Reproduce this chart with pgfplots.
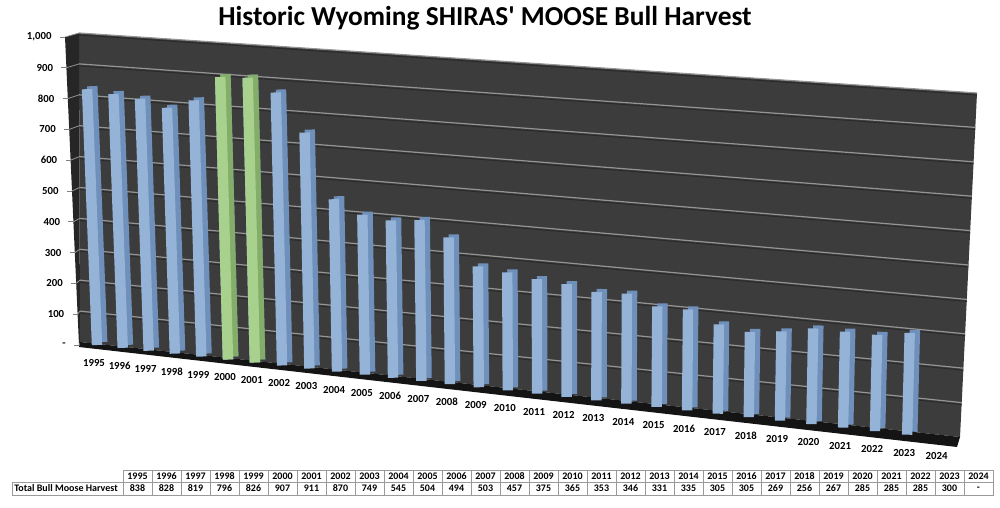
\documentclass[border=0pt]{standalone}
\usepackage{fontspec}
\setmainfont{Carlito}
\usepackage{pgfplots}
\usepackage{pgfplotstable}
\pgfplotsset{compat=1.18}

\definecolor{wallgray}{HTML}{3C3C3C}
\definecolor{sidewall}{HTML}{262626}
\definecolor{floorgray}{HTML}{141414}
\definecolor{gridgray}{HTML}{949494}
\definecolor{gridshadow}{HTML}{2A2A2A}
\definecolor{barblue}{HTML}{95B3D7}
\definecolor{barblueside}{HTML}{6F90BB}
\definecolor{bargreen}{HTML}{A9D18E}
\definecolor{bargreenside}{HTML}{84AD6A}
\definecolor{tablegray}{HTML}{9A9A9A}

% harvest per year, 2024 not reported yet
\pgfplotstableread{
idx year harvest
0  1995 838
1  1996 828
2  1997 819
3  1998 796
4  1999 826
5  2000 907
6  2001 911
7  2002 870
8  2003 749
9  2004 545
10 2005 504
11 2006 494
12 2007 503
13 2008 457
14 2009 375
15 2010 365
16 2011 353
17 2012 346
18 2013 331
19 2014 335
20 2015 305
21 2016 305
22 2017 269
23 2018 256
24 2019 267
25 2020 285
26 2021 285
27 2022 285
28 2023 300
29 2024 0
}\moosedata

\newcommand{\smallbf}{\bfseries\fontsize{5.4}{6}\selectfont}
\newcommand{\tablebf}{\bfseries\fontsize{5.0}{6}\selectfont}

% bars as strokes from the floor; the factors give the perspective of the
% original 3-D chart (bars further right are nearer: taller, leaning right)
\pgfplotsset{
  bar3d/.style={
    quiver={
      u={(-0.039+0.00229*\thisrow{idx})*0.01188*\thisrow{harvest}*(1+0.00424*\thisrow{idx})},
      v={\thisrow{harvest}*(1+0.00424*\thisrow{idx})},
      every arrow/.append style={-}},
    mark=none, line width=5.2pt, line cap=butt},
}

\begin{document}
\begin{tikzpicture}
% decorations in pixel units of the 1000x508 picture, origin top left
\begin{scope}[x=0.5pt,y=-0.5pt,shift={(0pt,254pt)}]
  \path[use as bounding box] (0,0) rectangle (1000,508);
  \node[font=\bfseries\fontsize{13.7}{16}\selectfont] at (485,18)
    {Historic Wyoming SHIRAS\textquotesingle\ MOOSE Bull Harvest};
  % back wall, side wall, floor
  \fill[wallgray] (80,342) -- (79,33) -- (977,93) -- (960,437) -- cycle;
  \fill[sidewall] (80,342) -- (79,33) -- (65,37) -- (79,345) -- cycle;
  \fill[floorgray] (80,342) -- (960,437) -- (957,447) -- (79,347) -- cycle;
  \foreach \v in {100,200,...,1000} {
    \pgfmathsetmacro\f{\v/1000}
    \draw[gridshadow, line width=0.5pt] ({80-\f},{344-309*\f}) -- ({960+17*\f},{439-344*\f});
    \draw[gridgray, line width=0.6pt] ({80-\f},{342-309*\f}) -- ({960+17*\f},{437-344*\f});
    \draw[gridgray, line width=0.4pt] ({79-14*\f},{345-308*\f}) -- ({80-\f},{342-309*\f});
  }
  \foreach \v/\lab in {0/-,100/100,200/200,300/300,400/400,500/500,600/600,700/700,800/800,900/900,1000/{1,000}} {
    \pgfmathsetmacro\f{\v/1000}
    \draw[gray, line width=0.4pt] ({79-14*\f},{345-308*\f}) -- ++(-5,0);
    \node[anchor=east, inner sep=0pt, font=\smallbf] at ({66-14*\f},{345-308*\f}) {\lab};
  }
  % data table under the chart
  \draw[tablegray, line width=0.4pt] (12,482) rectangle (123,495);
  \node[anchor=west, inner sep=0pt, font=\tablebf] at (14,488.5) {Total Bull Moose Harvest};
  \foreach \yr/\hv [count=\i from 0] in {1995/838,1996/828,1997/819,1998/796,1999/826,2000/907,2001/911,2002/870,2003/749,2004/545,2005/504,2006/494,2007/503,2008/457,2009/375,2010/365,2011/353,2012/346,2013/331,2014/335,2015/305,2016/305,2017/269,2018/256,2019/267,2020/285,2021/285,2022/285,2023/300,2024/-} {
    \draw[tablegray, line width=0.4pt] ({123+29*\i},470) rectangle ++(29,12);
    \draw[tablegray, line width=0.4pt] ({123+29*\i},482) rectangle ++(29,13);
    \node[font=\tablebf, inner sep=0pt] at ({137.5+29*\i},476) {\yr};
    \node[font=\tablebf, inner sep=0pt] at ({137.5+29*\i},488.5) {\hv};
  }
\end{scope}

\begin{axis}[
    at={(48.5pt,81.5pt)}, anchor=origin,
    x={(12.8pt,-1.417pt)}, y={(0pt,0.152pt)},
    x coord trafo/.code={\pgfmathparse{#1+0.00465*#1*#1}},
    xmin=-0.3, xmax=29.5,
    ymin=0, ymax=1000,
    clip=false,
    axis line style={draw=none},
    ytick=\empty,
    xtick={0,...,29},
    xticklabels from table={\moosedata}{year},
    major tick length=0pt,
    xticklabel style={anchor=north, inner sep=0pt, yshift=-7pt, xshift=-1.5pt, font=\smallbf},
]
\addplot[bar3d, color=barblueside, xshift=2.6pt, yshift=1.5pt]
    table[x=idx, y expr=0] {\moosedata};
\addplot[bar3d, color=barblue]
    table[x=idx, y expr=0] {\moosedata};
% 2000 and 2001 in green (domain is in transformed x: 5.12 and 6.17)
\addplot[bar3d, color=bargreenside, xshift=2.6pt, yshift=1.5pt, restrict x to domain=5.05:6.3]
    table[x=idx, y expr=0] {\moosedata};
\addplot[bar3d, color=bargreen, restrict x to domain=5.05:6.3]
    table[x=idx, y expr=0] {\moosedata};
\end{axis}
\end{tikzpicture}
\end{document}
